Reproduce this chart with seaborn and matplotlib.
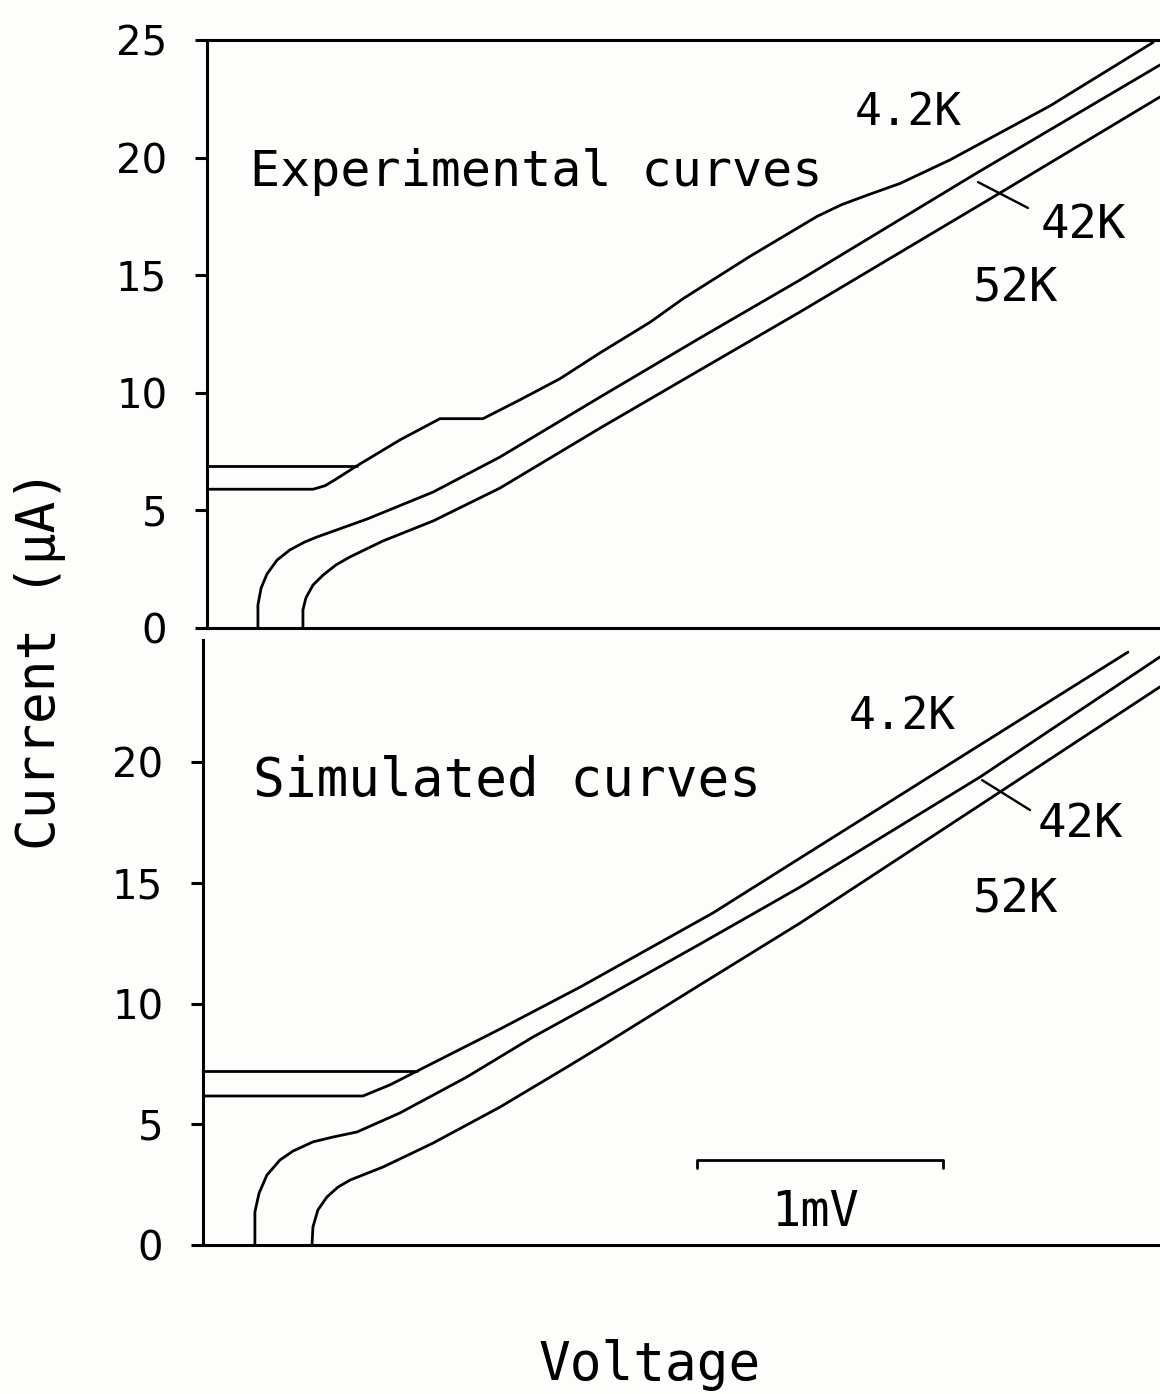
import numpy as np
import pandas as pd
import matplotlib
matplotlib.use("Agg")
import matplotlib.pyplot as plt
import seaborn as sns

sns.set_theme(style="white")
plt.rcParams['font.family'] = ['DejaVu Sans Mono', 'DejaVu Sans']

# --- data (voltage in mV from left axis, current in uA) ---
# experimental curves (top panel)
exp_42_v = [0.0, 0.431, 0.480, 0.520, 0.565, 0.610, 0.785, 0.947, 1.122, 1.272, 1.435,
            1.598, 1.801, 1.935, 2.207, 2.480, 2.580, 2.683, 2.817, 3.020, 3.427, 3.846]
exp_42_i = [5.9, 5.9, 6.05, 6.3, 6.6, 6.9, 8.0, 8.9, 8.9, 9.7, 10.6,
            11.7, 13.0, 14.0, 15.8, 17.5, 18.0, 18.4, 18.9, 19.9, 22.2, 24.9]
exp_42_sw_v = [0.0, 0.610]
exp_42_sw_i = [6.9, 6.9]

exp_420_v = [0.207, 0.207, 0.220, 0.244, 0.285, 0.337, 0.398, 0.447, 0.650, 0.919, 1.191,
             1.598, 2.004, 2.411, 3.130, 3.874]
exp_420_i = [0.0, 0.98, 1.70, 2.30, 2.89, 3.32, 3.66, 3.87, 4.63, 5.78, 7.27,
             9.82, 12.33, 14.80, 19.35, 23.94]

exp_520_v = [0.390, 0.390, 0.402, 0.431, 0.472, 0.524, 0.581, 0.715, 0.919, 1.191,
             1.598, 2.004, 2.411, 3.224, 3.874]
exp_520_i = [0.0, 0.77, 1.28, 1.83, 2.25, 2.68, 3.02, 3.70, 4.55, 5.95,
             8.50, 10.97, 13.44, 18.50, 22.58]

# simulated curves (bottom panel)
sim_42_v = [0.0, 0.650, 0.760, 0.870, 1.207, 1.533, 2.073, 2.427, 2.752, 3.106, 3.760]
sim_42_i = [6.17, 6.17, 6.63, 7.2, 8.94, 10.68, 13.75, 16.02, 18.10, 20.37, 24.55]
sim_42_sw_v = [0.0, 0.870]
sim_42_sw_i = [7.2, 7.2]

sim_420_v = [0.211, 0.211, 0.228, 0.260, 0.313, 0.366, 0.447, 0.528, 0.626, 0.801, 1.073,
             1.341, 1.614, 2.020, 2.427, 3.159, 3.890]
sim_420_i = [0.0, 1.37, 2.15, 2.90, 3.52, 3.89, 4.27, 4.47, 4.68, 5.47, 6.96,
             8.61, 10.14, 12.46, 14.82, 19.38, 24.35]

sim_520_v = [0.443, 0.447, 0.467, 0.504, 0.549, 0.598, 0.732, 0.935, 1.207, 1.480,
             1.614, 2.020, 2.427, 3.240, 3.890]
sim_520_i = [0.0, 0.75, 1.45, 1.99, 2.40, 2.69, 3.23, 4.22, 5.71, 7.37,
             8.20, 10.77, 13.33, 18.76, 23.11]

W, H = 1160, 1394
fig = plt.figure(figsize=(W / 100, H / 100), dpi=100)
fig.patch.set_facecolor('#fdfdfb')

ax_top = fig.add_axes([207 / W, (H - 628) / H, 953 / W, 588 / H])
ax_bot = fig.add_axes([203 / W, (H - 1245) / H, 957 / W, 613 / H])

curve_kw = dict(color='black', linewidth=2.0, sort=False, estimator=None, legend=False)

for v, i in [(exp_42_v, exp_42_i), (exp_42_sw_v, exp_42_sw_i),
             (exp_420_v, exp_420_i), (exp_520_v, exp_520_i)]:
    sns.lineplot(x=v, y=i, ax=ax_top, **curve_kw)

for v, i in [(sim_42_v, sim_42_i), (sim_42_sw_v, sim_42_sw_i),
             (sim_420_v, sim_420_i), (sim_520_v, sim_520_i)]:
    sns.lineplot(x=v, y=i, ax=ax_bot, **curve_kw)

ax_top.set_xlim(0, 953 / 246)
ax_top.set_ylim(0, 25)
ax_top.set_yticks([0, 5, 10, 15, 20, 25])
ax_bot.set_xlim(0, 957 / 246)
ax_bot.set_ylim(0, 613 / 24.15)
ax_bot.set_yticks([0, 5, 10, 15, 20])

for ax in (ax_top, ax_bot):
    ax.set_facecolor('none')
    ax.set_xticks([])
    ax.set_xlabel('')
    ax.set_ylabel('')
    ax.spines['right'].set_visible(False)
    for s in ax.spines.values():
        s.set_color('black')
        s.set_linewidth(2.2)
    ax.tick_params(axis='y', direction='out', length=8.6, width=2.2, pad=20,
                   labelsize=29, colors='black', left=True)
    for lab in ax.get_yticklabels():
        lab.set_family('DejaVu Sans')
ax_bot.spines['top'].set_visible(False)
ax_bot.spines['left'].set_bounds(0, 25.05)

txt_kw = dict(color='black')
ax_top.text(0.175, 18.8, 'Experimental curves', fontsize=36, va='baseline', **txt_kw)
ax_bot.text(0.203, 18.6, 'Simulated curves', fontsize=38, va='baseline', **txt_kw)

ax_top.text(2.850, 21.9, '4.2K', fontsize=32, ha='center', va='center', **txt_kw)
ax_top.text(3.561, 17.1, '42K', fontsize=34, ha='center', va='center', **txt_kw)
ax_top.text(3.285, 14.4, '52K', fontsize=34, ha='center', va='center', **txt_kw)
ax_top.plot([3.134, 3.337], [18.96, 17.86], color='black', linewidth=1.7)

ax_bot.text(2.841, 21.9, '4.2K', fontsize=32, ha='center', va='center', **txt_kw)
ax_bot.text(3.565, 17.4, '42K', fontsize=34, ha='center', va='center', **txt_kw)
ax_bot.text(3.301, 14.3, '52K', fontsize=34, ha='center', va='center', **txt_kw)
ax_bot.plot([3.167, 3.362], [19.25, 18.01], color='black', linewidth=1.7)

# 1 mV scale bar
ax_bot.plot([2.008, 2.008, 3.008, 3.008], [3.2, 3.52, 3.52, 3.2], color='black', linewidth=2.0)
ax_bot.text(2.488, 1.37, '1mV', fontsize=35, ha='center', va='center', **txt_kw)

fig.text(40 / W, 1 - 660 / H, 'Current (μA)', rotation=90, fontsize=38,
         ha='center', va='center', **txt_kw)
fig.text(650 / W, 1 - 1365 / H, 'Voltage', fontsize=38, ha='center', va='center', **txt_kw)

fig.savefig('out.png', dpi=100, facecolor=fig.get_facecolor())
